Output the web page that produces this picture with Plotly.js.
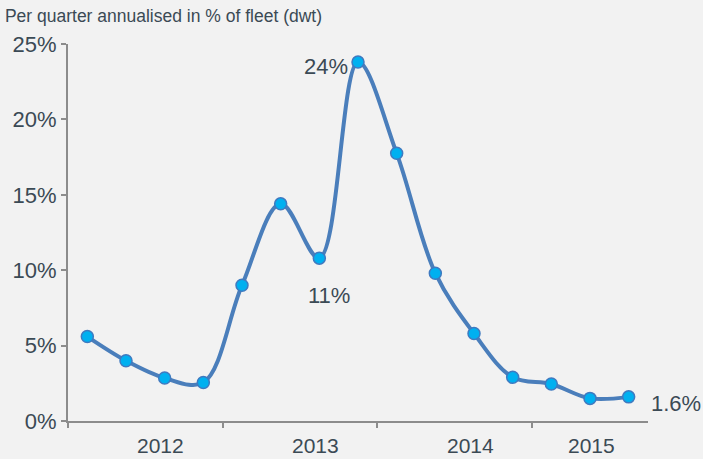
<!DOCTYPE html>
<html>
<head>
<meta charset="utf-8">
<script src="https://cdn.plot.ly/plotly-3.0.1.min.js"></script>
<style>html,body{margin:0;padding:0;background:#f2f2f2;}#chart{width:703px;height:459px;}</style>
</head>
<body>
<div id="chart"></div>
<script>
// Quarterly values, % of fleet (dwt), annualised — Q1 2012 .. Q3 2015
var quarterIndex = [0.5,1.5,2.5,3.5,4.5,5.5,6.5,7.5,8.5,9.5,10.5,11.5,12.5,13.5,14.5];
var values = [5.6,4.0,2.85,2.55,9.0,14.4,10.8,23.8,17.75,9.8,5.8,2.9,2.45,1.5,1.6];
var yearLabels = ["2012","2013","2014","2015"];
var yearCenters = [2.4,6.4,10.4,13.53];
var yearBoundaries = [0,4,8,12];
var yTicks = [0,5,10,15,20,25];
var yTickText = ["0%","5%","10%","15%","20%","25%"];
var callouts = [
  {x:7.5, y:23.8, text:"24%"},
  {x:6.5, y:10.8, text:"11%"},
  {x:14.5, y:1.6, text:"1.6%"}
];

var textColor = "#3b4a55";
var font = "Liberation Sans, Arial, sans-serif";

var trace = {
  x: quarterIndex, y: values, type: "scatter", mode: "lines+markers",
  line: {shape: "spline", smoothing: 1, color: "#4a7ebb", width: 4},
  marker: {size: 12, color: "#00b0f0", line: {color: "#3f7ac0", width: 1.5}},
  hoverinfo: "skip", cliponaxis: false
};

var annotations = yearLabels.map(function(t, i){
  return {x: yearCenters[i], y: 0, xref: "x", yref: "y", text: t, showarrow: false,
    yanchor: "middle", yshift: -24, font: {family: font, size: 21, color: textColor}};
});
annotations.push({x: callouts[0].x, y: callouts[0].y, xref:"x", yref:"y", text: callouts[0].text,
  showarrow:false, xanchor:"right", yanchor:"middle", xshift:-8, yshift:-4, font:{family:font,size:22,color:textColor}});
annotations.push({x: callouts[1].x, y: callouts[1].y, xref:"x", yref:"y", text: callouts[1].text,
  showarrow:false, xanchor:"center", yanchor:"middle", xshift:10, yshift:-37, font:{family:font,size:22,color:textColor}});
annotations.push({x: callouts[2].x, y: callouts[2].y, xref:"x", yref:"y", text: callouts[2].text,
  showarrow:false, xanchor:"left", yanchor:"middle", xshift:20, yshift:-7, font:{family:font,size:22,color:textColor}});

var layout = {
  width: 703, height: 459,
  paper_bgcolor: "#f2f2f2", plot_bgcolor: "#f2f2f2",
  margin: {l: 68, r: 55, t: 44, b: 38, pad: 0},
  showlegend: false,
  title: {text: "Per quarter annualised in % of fleet (dwt)", x: 0.007, xanchor: "left",
    xref: "container", yref: "container", y: 0.965, yanchor: "middle",
    font: {family: font, size: 17.5, color: textColor}},
  xaxis: {range: [0, 15], tickvals: yearBoundaries, ticktext: ["","","",""], ticks: "outside",
    ticklen: 5, tickwidth: 2, tickcolor: "#8c8c8c", showline: true, linecolor: "#8c8c8c", linewidth: 2,
    showgrid: false, zeroline: false, fixedrange: true},
  yaxis: {range: [0, 25], tickvals: yTicks, ticktext: yTickText, ticks: "outside", ticklen: 5,
    tickwidth: 2, tickcolor: "#8c8c8c", showline: true, linecolor: "#8c8c8c", linewidth: 2,
    showgrid: false, zeroline: false, tickfont: {family: font, size: 22, color: textColor},
    fixedrange: true},
  annotations: annotations
};

Plotly.newPlot("chart", [trace], layout, {displayModeBar: false, staticPlot: true});
</script>
</body>
</html>
